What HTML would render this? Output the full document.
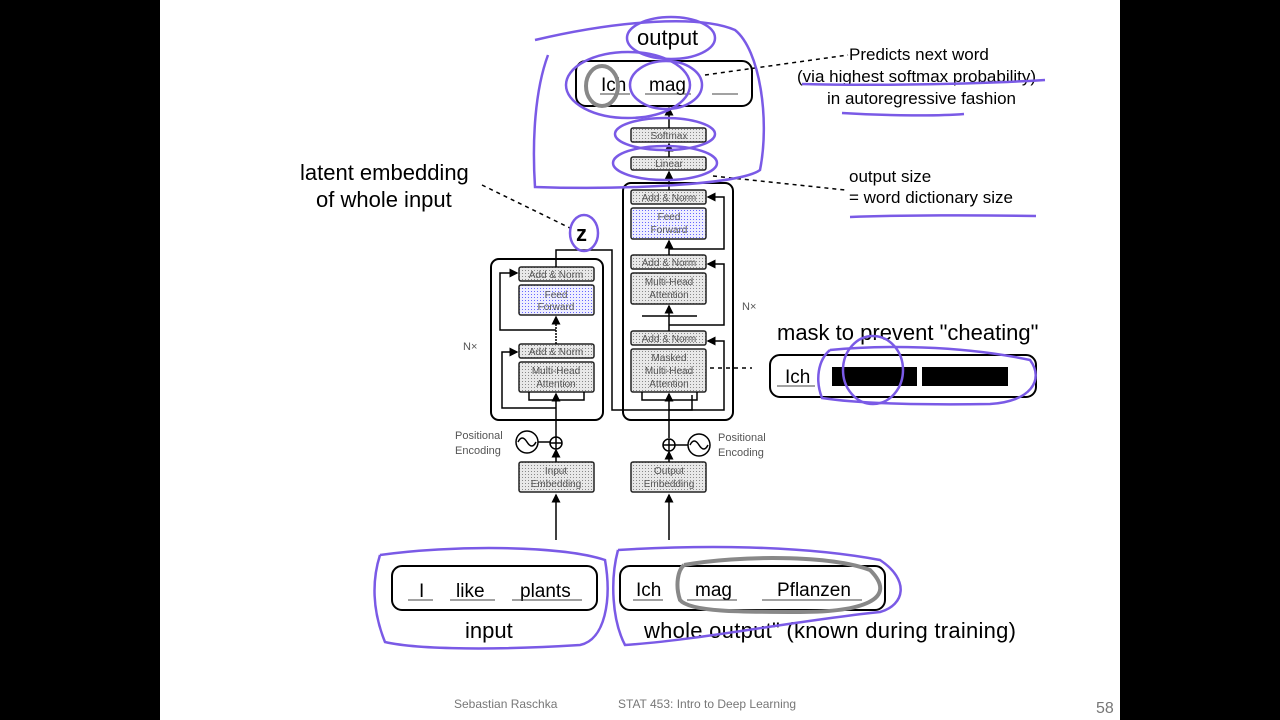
<!DOCTYPE html>
<html><head><meta charset="utf-8"><style>
html,body{margin:0;padding:0;background:#000;}
svg{display:block;}
text{font-family:"Liberation Sans",sans-serif;}
</style></head><body>
<svg width="1280" height="720" viewBox="0 0 1280 720" xmlns="http://www.w3.org/2000/svg">
<defs>
<pattern id="dots" width="3" height="3" patternUnits="userSpaceOnUse"><rect width="3" height="3" fill="#e8e8e8"/><rect width="1" height="1" fill="#888"/></pattern>
<pattern id="bdots" width="3" height="3" patternUnits="userSpaceOnUse"><rect width="3" height="3" fill="#eeeeff"/><rect width="1" height="1" fill="#66f"/></pattern>
<marker id="ar" markerWidth="6" markerHeight="6" refX="5" refY="3" orient="auto"><path d="M0,0 L6,3 L0,6z" fill="#000"/></marker>
</defs>
<rect x="160" y="0" width="960" height="720" fill="#fff"/>
<g stroke="#000" stroke-width="2" fill="none">
<rect x="491" y="259" width="112" height="161" rx="8"/>
<rect x="623" y="183" width="110" height="237" rx="8"/>
</g>
<g stroke="#222" stroke-width="1.5">
<rect x="519" y="267" width="75" height="14" rx="2" fill="url(#dots)"/>
<rect x="519" y="285" width="75" height="30" rx="2" fill="url(#bdots)"/>
<rect x="519" y="344" width="75" height="14" rx="2" fill="url(#dots)"/>
<rect x="519" y="362" width="75" height="30" rx="2" fill="url(#dots)"/>
<rect x="519" y="462" width="75" height="30" rx="2" fill="url(#dots)"/>
<rect x="631" y="190" width="75" height="14" rx="2" fill="url(#dots)"/>
<rect x="631" y="208" width="75" height="31" rx="2" fill="url(#bdots)"/>
<rect x="631" y="255" width="75" height="14" rx="2" fill="url(#dots)"/>
<rect x="631" y="273" width="75" height="31" rx="2" fill="url(#dots)"/>
<rect x="631" y="331" width="75" height="14" rx="2" fill="url(#dots)"/>
<rect x="631" y="349" width="75" height="43" rx="2" fill="url(#dots)"/>
<rect x="631" y="462" width="75" height="30" rx="2" fill="url(#dots)"/>
<rect x="631" y="157" width="75" height="13" rx="2" fill="url(#dots)"/>
<rect x="631" y="128" width="75" height="14" rx="2" fill="url(#dots)"/>
</g>
<g font-size="10" fill="#555" text-anchor="middle">
<text x="556" y="278">Add &amp; Norm</text>
<text x="556" y="298">Feed</text><text x="556" y="310">Forward</text>
<text x="556" y="355">Add &amp; Norm</text>
<text x="556" y="374">Multi-Head</text><text x="556" y="387">Attention</text>
<text x="556" y="474">Input</text><text x="556" y="487">Embedding</text>
<text x="669" y="201">Add &amp; Norm</text>
<text x="669" y="220">Feed</text><text x="669" y="233">Forward</text>
<text x="669" y="266">Add &amp; Norm</text>
<text x="669" y="285">Multi-Head</text><text x="669" y="298">Attention</text>
<text x="669" y="342">Add &amp; Norm</text>
<text x="669" y="361">Masked</text><text x="669" y="374">Multi-Head</text><text x="669" y="387">Attention</text>
<text x="669" y="474">Output</text><text x="669" y="487">Embedding</text>
<text x="669" y="167">Linear</text>
<text x="669" y="139">Softmax</text>
</g>
<g font-size="11" fill="#555">
<text x="463" y="350">N×</text><text x="742" y="310">N×</text>
<text x="455" y="439">Positional</text><text x="455" y="454">Encoding</text>
<text x="718" y="441">Positional</text><text x="718" y="456">Encoding</text>
</g>
<g stroke="#000" stroke-width="1.5" fill="none">
<line x1="556" y1="540" x2="556" y2="495" marker-end="url(#ar)"/>
<line x1="556" y1="462" x2="556" y2="450" marker-end="url(#ar)"/>
<line x1="556" y1="437" x2="556" y2="394" marker-end="url(#ar)"/>
<line x1="556" y1="344" x2="556" y2="317" marker-end="url(#ar)" stroke-dasharray="2,1"/>
<path d="M556,267 V250 H612 V410 H692 V395" />
<path d="M556,408 H502 V352 H517" marker-end="url(#ar)"/>
<path d="M556,330 H500 V273 H517" marker-end="url(#ar)"/>
<path d="M529,392 V400 H584 V392"/>
<circle cx="556" cy="443" r="6"/><path d="M550,443h12M556,437v12"/>
<circle cx="527" cy="442" r="11"/><path d="M518,442 q4,-8 9,0 t9,0"/><line x1="538" y1="442" x2="550" y2="442"/>
<line x1="669" y1="540" x2="669" y2="495" marker-end="url(#ar)"/>
<line x1="669" y1="462" x2="669" y2="452" marker-end="url(#ar)"/>
<line x1="669" y1="438" x2="669" y2="394" marker-end="url(#ar)"/>
<line x1="669" y1="331" x2="669" y2="306" marker-end="url(#ar)"/>
<line x1="669" y1="255" x2="669" y2="241" marker-end="url(#ar)"/>
<line x1="669" y1="190" x2="669" y2="172" marker-end="url(#ar)"/>
<line x1="669" y1="157" x2="669" y2="144" marker-end="url(#ar)"/>
<line x1="669" y1="128" x2="669" y2="108" marker-end="url(#ar)"/>
<path d="M669,410 H724 V341 H708" marker-end="url(#ar)"/>
<path d="M669,325 H724 V264 H708" marker-end="url(#ar)"/>
<path d="M669,249 H724 V197 H708" marker-end="url(#ar)"/>
<path d="M642,392 V400 H697 V392"/>
<path d="M642,316 H697"/>
<circle cx="669" cy="445" r="6"/><path d="M663,445h12M669,439v12"/>
<circle cx="699" cy="445" r="11"/><path d="M690,445 q4,-8 9,0 t9,0"/><line x1="675" y1="445" x2="688" y2="445"/>
</g>
<g stroke="#000" stroke-width="2" fill="#fff">
<rect x="576" y="61" width="176" height="45" rx="10"/>
<rect x="392" y="566" width="205" height="44" rx="10"/>
<rect x="620" y="566" width="265" height="44" rx="10"/>
<rect x="770" y="355" width="266" height="42" rx="10"/>
</g>
<rect x="832" y="367" width="85" height="19" fill="#000"/>
<rect x="922" y="367" width="86" height="19" fill="#000"/>
<g font-size="19" fill="#000">
<text x="601" y="91">Ich</text><text x="649" y="91">mag</text>
<text x="419" y="597">I</text><text x="456" y="597">like</text><text x="520" y="597">plants</text>
<text x="636" y="596">Ich</text><text x="695" y="596">mag</text><text x="777" y="596">Pflanzen</text>
<text x="785" y="383">Ich</text>
</g>
<g stroke="#444" stroke-width="1">
<path d="M600,94h30M645,94h46M712,94h26M408,600h25M450,600h45M512,600h70M633,600h30M687,600h50M762,600h100M777,386h38"/>
</g>
<g font-size="22" fill="#000">
<text x="637" y="45">output</text>
<text x="300" y="180">latent embedding</text>
<text x="316" y="207">of whole input</text>
<text x="777" y="340">mask to prevent "cheating"</text>
<text x="465" y="638">input</text>
<text x="644" y="638" textLength="372">whole output" (known during training)</text>
<text x="576" y="241" font-weight="bold">z</text>
</g>
<g font-size="17" fill="#000">
<text x="849" y="60">Predicts next word</text>
<text x="797" y="82">(via highest softmax probability)</text>
<text x="827" y="104">in autoregressive fashion</text>
<text x="849" y="182">output size</text>
<text x="849" y="203">= word dictionary size</text>
</g>
<g stroke="#000" stroke-width="1.5" stroke-dasharray="4,4" fill="none">
<path d="M705,75 L848,55"/><path d="M713,176 L845,190"/><path d="M482,185 L570,228"/><path d="M710,368 L752,368"/>
</g>
<g font-size="12" fill="#777">
<text x="454" y="708">Sebastian Raschka</text>
<text x="618" y="708">STAT 453: Intro to Deep Learning</text>
<text x="1096" y="713" font-size="16">58</text>
</g>
<g stroke="#7a5ae6" stroke-width="2.5" fill="none">
<path d="M535,40 C620,20 700,15 735,30 C760,50 770,120 760,170 C740,185 620,190 535,187 C532,140 535,90 548,55"/>
<ellipse cx="671" cy="38" rx="44" ry="21"/>
<ellipse cx="628" cy="85" rx="62" ry="33"/>
<ellipse cx="666" cy="85" rx="36" ry="24"/>
<ellipse cx="665" cy="134" rx="50" ry="16"/>
<ellipse cx="665" cy="163" rx="52" ry="17"/>
<ellipse cx="584" cy="233" rx="14" ry="18"/>
<path d="M802,84 C880,86 980,84 1045,80"/>
<path d="M842,113 C890,116 940,116 964,114"/>
<path d="M850,217 C900,215 980,215 1036,216"/>
<path d="M830,350 C880,345 960,345 1030,360 C1045,380 1030,402 990,404 C930,405 860,404 822,398 C815,380 818,360 830,350"/>
<ellipse cx="873" cy="370" rx="30" ry="34"/>
<path d="M380,555 C450,545 560,545 605,560 C612,600 605,640 580,645 C500,650 420,650 385,642 C372,610 372,580 380,555"/>
<path d="M618,550 C700,545 800,545 880,560 C910,580 905,605 880,612 C800,620 700,640 625,645 C612,620 610,580 618,550"/>
</g>
<g stroke="#888" stroke-width="4" fill="none">
<ellipse cx="602" cy="86" rx="16" ry="20"/>
<path d="M684,565 C740,555 830,555 870,570 C900,600 860,612 800,612 C740,612 690,612 680,600 C675,585 678,570 684,565"/>
</g>
</svg>
</body></html>
